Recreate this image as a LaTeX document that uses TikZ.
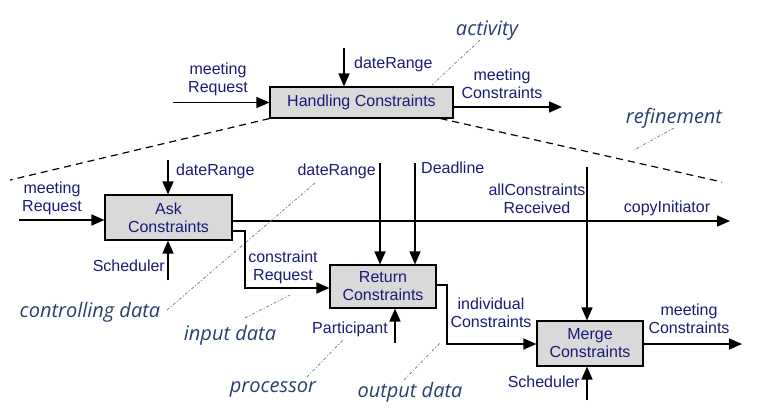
\documentclass[tikz,border=0pt]{standalone}
\usepackage{fontspec}
\setmainfont{Liberation Sans}
\newfontfamily\annfont{Open Sans}
\usetikzlibrary{arrows.meta}
\definecolor{lbl}{RGB}{26,26,120}
\definecolor{ann}{RGB}{40,64,110}
\definecolor{boxfill}{RGB}{217,217,217}
\begin{document}
\begin{tikzpicture}[x=1pt,y=-1pt,
  proc/.style={draw=black, line width=1.1pt, fill=boxfill, text=lbl, align=center, font=\fontsize{16}{18}\selectfont, inner sep=0pt},
  lab/.style={text=lbl, align=center, font=\fontsize{16}{18}\selectfont, inner sep=0pt},
  ann/.style={text=ann, font=\annfont\itshape\fontsize{20}{22}\selectfont, inner sep=0pt},
  flow/.style={line width=1.5pt, -{Triangle[length=13pt,width=11pt]}},
  refl/.style={line width=1.2pt, dash pattern=on 7pt off 5pt},
  pointer/.style={line width=0.7pt, color=ann!70, dash pattern=on 3pt off 2pt on 1pt off 2pt}
]
\useasboundingbox (0,0) rectangle (774,410);

% process boxes
\node[proc, minimum width=183pt, minimum height=31pt] (hc) at (361.5,102.5) {Handling Constraints};
\node[proc, minimum width=127pt, minimum height=45pt] (ac) at (168.5,217.5) {Ask\\Constraints};
\node[proc, minimum width=106pt, minimum height=43pt] (rc) at (383,286.5) {Return\\Constraints};
\node[proc, minimum width=106pt, minimum height=45pt] (mg) at (590,343.5) {Merge\\Constraints};

% coordinates
\coordinate (mrT) at (173,102.5);
\coordinate (drT) at (344,48);
\coordinate (mcT) at (562,107);
\coordinate (rfL) at (10,180);
\coordinate (rfR) at (722,182);
\coordinate (mrL) at (19,220);
\coordinate (drA) at (168,160);
\coordinate (schA) at (168,280);
\coordinate (ciE) at (730,221);
\coordinate (crA) at (245,231);
\coordinate (crB) at (245,288);
\coordinate (drR) at (380,163);
\coordinate (dl) at (415,163);
\coordinate (pa) at (395,343);
\coordinate (icA) at (447,285);
\coordinate (icB) at (447,344);
\coordinate (acr) at (587,167);
\coordinate (schM) at (587,400);
\coordinate (mcE) at (742,344);

% top level
\draw[flow] (mrT) -- (hc.west);
\draw[flow] (drT) -- (drT |- hc.north);
\draw[flow] (hc.east |- mcT) -- (mcT);
\draw[refl] (hc.south west) -- (rfL);
\draw[refl] ([xshift=-13pt]hc.south east) -- (rfR);

% refinement
\draw[flow] (mrL) -- (mrL -| ac.west);
\draw[flow] (drA) -- (drA |- ac.north);
\draw[flow] (schA) -- (schA |- ac.south);
\draw[flow] (ac.east |- ciE) -- (ciE);
\draw[flow] (ac.east |- crA) -- (crA) -- (crB) -- (rc.west |- crB);
\draw[flow] (drR) -- (drR |- rc.north);
\draw[flow] (dl) -- (dl |- rc.north);
\draw[flow] (pa) -- (pa |- rc.south);
\draw[flow] (rc.east |- icA) -- (icA) -- (icB) -- (mg.west |- icB);
\draw[flow] (acr) -- (acr |- mg.north);
\draw[flow] (schM) -- (schM |- mg.south);
\draw[flow] (mg.east |- mcE) -- (mcE);

% labels (multi-line: base = last line)
\node[lab, anchor=base] (lmrT) at (218,92) {meeting\\Request};
\node[lab, anchor=base west] (ldrT) at (354,68) {dateRange};
\node[lab, anchor=base] (lmcT) at (502,98) {meeting\\Constraints};
\node[lab, anchor=base] (lmrL) at (52,211) {meeting\\Request};
\node[lab, anchor=base west] (ldrA) at (176,175) {dateRange};
\node[lab, anchor=base east] (lschA) at (165,271) {Scheduler};
\node[lab, anchor=base] (lcr) at (283,280) {constraint\\Request};
\node[lab, anchor=base east] (ldrR) at (376,175) {dateRange};
\node[lab, anchor=base west] (ldl) at (421,173) {Deadline};
\node[lab, anchor=base] (lacr) at (537,213) {allConstraints\\Received};
\node[lab, anchor=base] (lci) at (667,212) {copyInitiator};
\node[lab, anchor=base east] (lpa) at (388,333) {Participant};
\node[lab, anchor=base] (lic) at (491,327) {individual\\Constraints};
\node[lab, anchor=base] (lmcM) at (689,333) {meeting\\Constraints};
\node[lab, anchor=base east] (lschM) at (580,387) {Scheduler};

% annotations
\node[ann, anchor=base] (nact) at (487,35) {activity};
\node[ann, anchor=base] (nref) at (674,123) {refinement};
\node[ann, anchor=base] (nctl) at (90,317) {controlling data};
\node[ann, anchor=base] (ninp) at (230,340) {input data};
\node[ann, anchor=base] (npro) at (273,392) {processor};
\node[ann, anchor=base] (nout) at (410,397) {output data};

\coordinate (pact) at (432,85);
\coordinate (pref) at (634,150);
\coordinate (pctl) at (315,183);
\coordinate (pinp) at (290,295);
\coordinate (ppro) at (343,340);
\coordinate (pout) at (440,343);

\draw[pointer] (480,40) -- (pact);
\draw[pointer] (674,128) -- (pref);
\draw[pointer] (167,310) -- (pctl);
\draw[pointer] (245,318) -- (pinp);
\draw[pointer] (307,377) -- (ppro);
\draw[pointer] (404,380) -- (pout);
\end{tikzpicture}
\end{document}
